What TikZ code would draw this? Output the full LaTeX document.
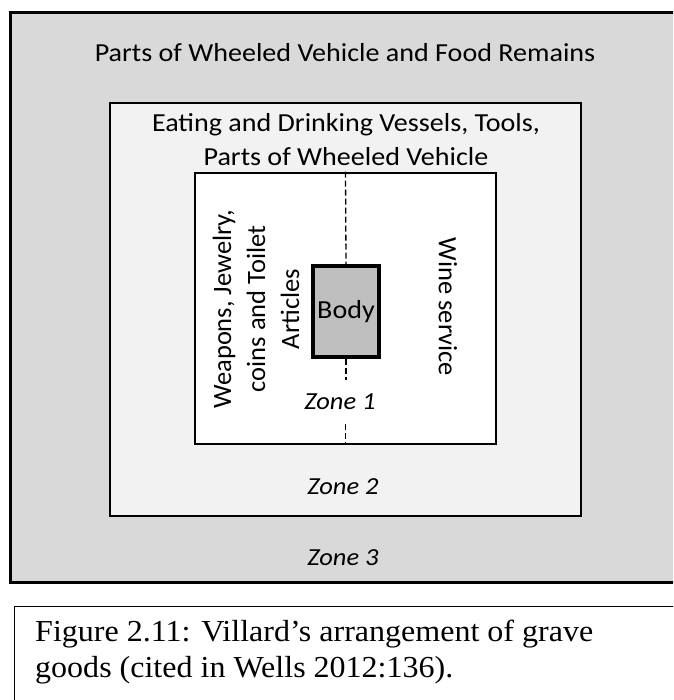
\documentclass[tikz,border=0pt]{standalone}
\usepackage{fontspec}
\usepackage{xcolor}
\newfontfamily\diagfont[FakeStretch=1.08]{Carlito}
\newfontfamily\sidefont{Carlito}
\newfontfamily\capfont[FakeStretch=1.05]{Liberation Serif}
\usetikzlibrary{positioning}
\definecolor{zonethree}{HTML}{D9D9D9}
\definecolor{zonetwo}{HTML}{F2F2F2}
\definecolor{bodygray}{HTML}{BFBFBF}

\begin{document}
\begin{tikzpicture}[x=1pt, y=-1pt,
        zonebox/.style={draw, inner sep=0pt, line width=2.8pt},
        goods/.style={font=\diagfont\fontsize{26}{34}\selectfont, inner sep=0pt},
        sidegoods/.style={font=\sidefont\fontsize{26.5}{34}\selectfont, align=center, inner sep=0pt},
        zonename/.style={font=\diagfont\itshape\fontsize{24.5}{28}\selectfont, inner sep=0pt},
        captext/.style={font=\capfont\fontsize{30.5}{36}\selectfont, inner sep=0pt, anchor=base west},
        midline/.style={line width=1.3pt, dash pattern=on 6pt off 3pt}]

        \path[use as bounding box, clip] (0,0) rectangle (673,700);

        \node[zonebox, fill=zonethree, line width=3pt, minimum width=680pt, minimum height=569pt] (zone3) at (350,297.5) {};
        \node[zonebox, fill=zonetwo, minimum width=471pt, minimum height=413pt] (zone2) at (345.5,309.5) {};
        \node[zonebox, fill=white, line width=2.6pt, minimum width=301pt, minimum height=271pt] (zone1) at (345.5,308.5) {};
        \node[zonebox, fill=bodygray, line width=3.2pt, minimum width=66pt, minimum height=91pt, goods] (body) at (346,311.5) {Body};

        \node[goods, anchor=base] (remains) at (345,62) {Parts of Wheeled Vehicle and Food Remains};
        \node[goods, anchor=base] (vessels) at (346,132) {Eating and Drinking Vessels, Tools,};
        \node[goods, anchor=base] (vehicle) at ([yshift=-34pt]vessels.base) {Parts of Wheeled Vehicle};

        \node[sidegoods, rotate=90] (weapons) at (256,309) {Weapons, Jewelry,\\coins and Toilet\\Articles};
        \node[sidegoods, rotate=-90] (wine) at (448,307) {Wine service};

        \node[zonename, minimum height=43pt] (zone1name) at (340,402) {Zone 1};
        \node[zonename] (zone2name) at (343,486.5) {Zone 2};
        \node[zonename] (zone3name) at (343,557.5) {Zone 3};

        \draw[midline] (zone1.north) -- (body.north);
        \draw[midline] (body.south) -- (body.south |- zone1name.north);
        \draw[midline] (zone1.south |- zone1name.south) -- (zone1.south);

        % caption under the plan
        \node[draw, line width=1.3pt, minimum width=686pt, minimum height=114pt, anchor=north west] (capbox) at (14,606) {};
        \node[captext] (cap1) at (35,641) {Figure 2.11: Villard’s arrangement of grave};
        \node[captext] (cap2) at ([yshift=-36pt]cap1.base west) {goods (cited in Wells 2012:136).};
\end{tikzpicture}
\end{document}
